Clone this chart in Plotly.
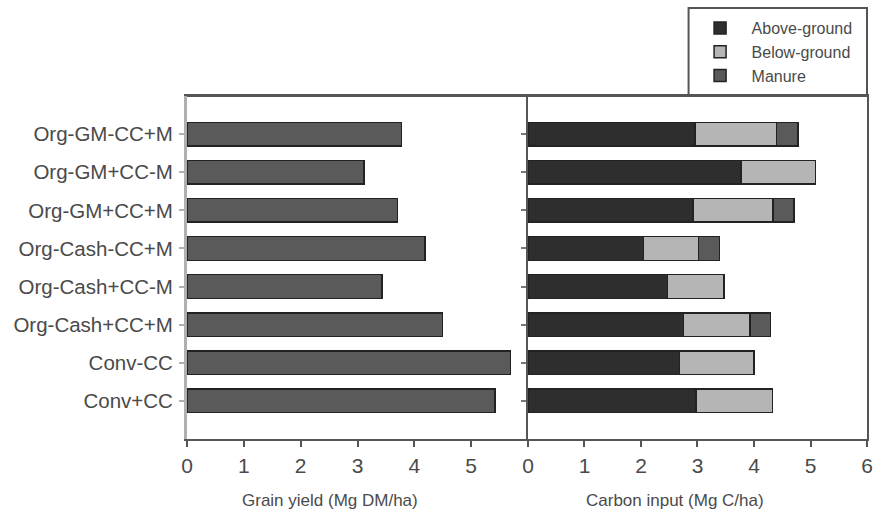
import plotly.graph_objects as go

categories = ["Conv+CC", "Conv-CC", "Org-Cash+CC+M", "Org-Cash+CC-M",
              "Org-Cash-CC+M", "Org-GM+CC+M", "Org-GM+CC-M", "Org-GM-CC+M"]
grain_yield = [5.42, 5.69, 4.50, 3.43, 4.19, 3.70, 3.11, 3.77]
above_ground = [2.97, 2.68, 2.75, 2.47, 2.04, 2.92, 3.77, 2.96]
below_ground = [1.36, 1.32, 1.18, 1.00, 0.98, 1.42, 1.32, 1.44]
manure = [None, None, 0.36, None, 0.37, 0.37, None, 0.38]
x_ticks_left = [0, 1, 2, 3, 4, 5]
x_ticks_right = [0, 1, 2, 3, 4, 5, 6]

FONT = "Liberation Sans, Arial, sans-serif"
TXT = "#4a4a4a"
OUT = "#222222"
BW = 0.62

fig = go.Figure()
fig.add_trace(go.Bar(y=categories, x=grain_yield, orientation="h", width=BW,
                     marker=dict(color="#5a5a5a", line=dict(color=OUT, width=1.5)),
                     showlegend=False, xaxis="x", yaxis="y"))
for name, vals, col in [("Above-ground", above_ground, "#2e2e2e"),
                        ("Below-ground", below_ground, "#b5b5b5"),
                        ("Manure", manure, "#5a5a5a")]:
    fig.add_trace(go.Bar(y=categories, x=vals, orientation="h", width=BW, name=name,
                         marker=dict(color=col, line=dict(color=OUT, width=1.5)),
                         xaxis="x2", yaxis="y2"))

L, R, T, B = 187, 9, 96, 78
PW, PH = 882 - L - R, 517 - T - B


def px(xp):
    return (xp - L) / PW


def py(yp):
    return (517 - B - yp) / PH


d = 344 / PW
fig.update_layout(
    width=882, height=517,
    margin=dict(l=L, r=R, t=T, b=B),
    paper_bgcolor="white", plot_bgcolor="white",
    barmode="stack",
    font=dict(family=FONT, color=TXT, size=19),
    xaxis=dict(domain=[0, d], range=[0, 6], tickvals=x_ticks_left,
               showline=True, linecolor="#555", linewidth=2, mirror=True,
               ticks="outside", ticklen=6, tickwidth=2, tickcolor="#555",
               showgrid=False, zeroline=False, ticklabelstandoff=1,
               tickfont=dict(size=21, color=TXT)),
    xaxis2=dict(domain=[d, 1], range=[0, 6], tickvals=x_ticks_right, anchor="y2",
                showline=True, linecolor="#555", linewidth=2, mirror=True,
                ticks="outside", ticklen=6, tickwidth=2, tickcolor="#555",
                showgrid=False, zeroline=False, ticklabelstandoff=1,
                tickfont=dict(size=21, color=TXT)),
    yaxis=dict(categoryorder="array", categoryarray=categories, range=[-1, 8],
               showline=True, linecolor="#b0b0b0", linewidth=3,
               ticks="outside", ticklen=5, tickcolor="#b0b0b0", tickwidth=2,
               showgrid=False, ticklabelstandoff=2,
               tickfont=dict(size=20.5, color=TXT)),
    yaxis2=dict(categoryorder="array", categoryarray=categories, range=[-1, 8],
                anchor="x2", showline=True, linecolor="#555", linewidth=2, mirror=True,
                ticks="outside", ticklen=5, tickcolor="#777", tickwidth=2,
                showticklabels=False, showgrid=False),
    legend=dict(x=px(693), y=py(11), xanchor="left", yanchor="top",
                bgcolor="rgba(0,0,0,0)", borderwidth=0,
                traceorder="normal", font=dict(size=16, color=TXT),
                itemwidth=53, tracegroupgap=0),
    shapes=[dict(type="rect", xref="paper", yref="paper",
                 x0=px(693), x1=px(873), y0=py(8), y1=py(96),
                 fillcolor="white", layer="below",
                 line=dict(color="#555", width=2)),
            dict(type="line", xref="paper", yref="paper",
                 x0=0, x1=1, y0=1, y1=1, line=dict(color="#555", width=2))],
    annotations=[
        dict(text="Grain yield (Mg DM/ha)", xref="paper", yref="paper",
             x=px(331), y=py(500), showarrow=False,
             xanchor="center", yanchor="middle", font=dict(size=17, color=TXT)),
        dict(text="Carbon input (Mg C/ha)", xref="paper", yref="paper",
             x=px(679), y=py(500), showarrow=False,
             xanchor="center", yanchor="middle", font=dict(size=17, color=TXT)),
    ],
)
fig.write_html("out.html")
